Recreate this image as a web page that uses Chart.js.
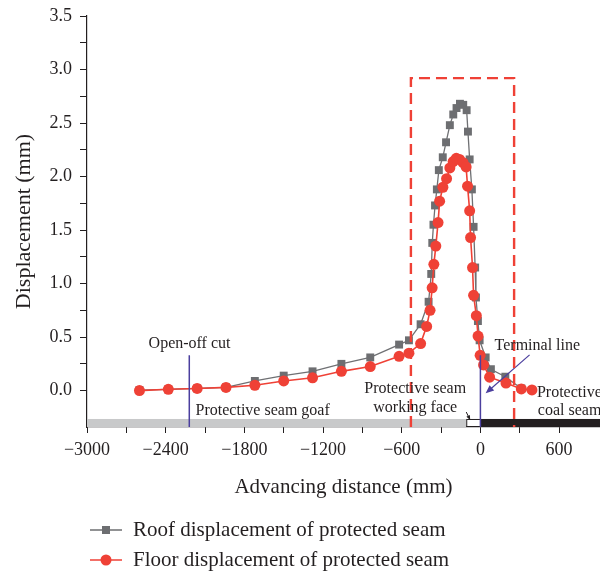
<!DOCTYPE html>
<html>
<head>
<meta charset="utf-8">
<script src="https://cdn.jsdelivr.net/npm/chart.js@4.4.1/dist/chart.umd.min.js"></script>
<style>
html, body { margin: 0; padding: 0; background: #fff; }
#wrap { width: 600px; height: 576px; position: relative; }
</style>
</head>
<body>
<div id="wrap"><canvas id="myChart"></canvas></div>
<script>
// advancing distance (mm) and displacement (mm)
var roofX = [-2600, -2380, -2160, -1940, -1720, -1500, -1280, -1060, -840, -620, -545, -456, -395, -375, -367, -358, -346, -332, -317, -287, -262, -233, -207, -182, -156, -131, -105, -95, -82, -65, -52, -40, -34, -19, -6, 40, 80, 190, 312];
var roofY = [0.005, 0.012, 0.02, 0.03, 0.09, 0.14, 0.18, 0.25, 0.31, 0.43, 0.47, 0.62, 0.83, 1.09, 1.38, 1.55, 1.73, 1.88, 2.06, 2.18, 2.32, 2.48, 2.58, 2.64, 2.68, 2.67, 2.62, 2.42, 2.16, 1.88, 1.53, 1.15, 0.87, 0.65, 0.47, 0.31, 0.2, 0.13, 0.02];

var floorX = [-2600, -2380, -2160, -1940, -1720, -1500, -1280, -1060, -840, -620, -545, -456, -410, -384, -368, -355, -340, -323, -311, -286, -258, -233, -208, -184, -159, -132, -109, -98, -82, -75, -60, -52, -31, -18, -2, 24, 70, 195, 312, 393];
var floorY = [0.0, 0.012, 0.02, 0.03, 0.05, 0.09, 0.12, 0.18, 0.225, 0.32, 0.35, 0.44, 0.6, 0.75, 0.96, 1.18, 1.35, 1.57, 1.77, 1.9, 1.98, 2.08, 2.14, 2.17, 2.16, 2.13, 2.09, 1.91, 1.68, 1.43, 1.15, 0.89, 0.7, 0.51, 0.33, 0.24, 0.125, 0.07, 0.016, 0.006];

var xTicks = [-3000, -2400, -1800, -1200, -600, 0, 600];
var yTicks = [0, 0.5, 1, 1.5, 2, 2.5, 3, 3.5];
var seriesNames = ['Roof displacement of protected seam', 'Floor displacement of protected seam'];

var GRAY = '#6d6e71';
var RED = '#ef4136';
var BLUE = '#4b3f9e';
var INK = '#231f20';
var SERIF = '"Liberation Serif", "Times New Roman", serif';

function pairs(xs, ys) {
  return xs.map(function (x, i) { return { x: x, y: ys[i] }; });
}

function arrow(c, x1, y1, x2, y2, head) {
  var ang = Math.atan2(y2 - y1, x2 - x1);
  c.beginPath();
  c.moveTo(x1, y1);
  c.lineTo(x2 - Math.cos(ang) * head * 0.6, y2 - Math.sin(ang) * head * 0.6);
  c.stroke();
  c.beginPath();
  c.moveTo(x2, y2);
  c.lineTo(x2 - head * Math.cos(ang - 0.4), y2 - head * Math.sin(ang - 0.4));
  c.lineTo(x2 - head * Math.cos(ang + 0.4), y2 - head * Math.sin(ang + 0.4));
  c.closePath();
  c.fill();
}

var overlay = {
  id: 'overlay',
  beforeDatasetsDraw: function (chart) {
    var c = chart.ctx, xs = chart.scales.x, ys = chart.scales.y, a = chart.chartArea;
    var top = ys.getPixelForValue(-0.265);
    var face = xs.getPixelForValue(-108), term = xs.getPixelForValue(0);
    c.save();
    c.fillStyle = '#c8c9ca';
    c.fillRect(a.left, top, face - a.left, a.bottom - top);
    c.fillStyle = INK;
    c.fillRect(term, top, a.right - term, a.bottom - top);
    c.strokeStyle = INK;
    c.lineWidth = 1;
    c.strokeRect(face + 0.5, top + 0.5, term - face, a.bottom - top - 1);
    c.restore();
  },
  afterDatasetsDraw: function (chart) {
    var c = chart.ctx, xs = chart.scales.x, ys = chart.scales.y, a = chart.chartArea;
    var px = function (v) { return xs.getPixelForValue(v); };
    var py = function (v) { return ys.getPixelForValue(v); };
    c.save();

    // blue marker lines: open-off cut and terminal line
    c.strokeStyle = BLUE;
    c.fillStyle = BLUE;
    c.lineWidth = 1.5;
    c.beginPath();
    c.moveTo(px(-2220), py(0.33)); c.lineTo(px(-2220), a.bottom);
    c.moveTo(px(0), py(0.33)); c.lineTo(px(0), a.bottom);
    c.stroke();
    c.lineWidth = 1.2;
    arrow(c, px(375), py(0.334), px(40), py(-0.025), 9);

    // small black arrow to the working face
    c.strokeStyle = INK;
    c.fillStyle = INK;
    c.lineWidth = 1;
    arrow(c, px(-108), py(-0.2), px(-78), py(-0.275), 5);

    // red dashed box round the peak
    c.strokeStyle = RED;
    c.lineWidth = 2.4;
    c.setLineDash([11, 6]);
    c.beginPath();
    c.moveTo(px(-530), a.bottom);
    c.lineTo(px(-530), py(2.92));
    c.lineTo(px(257), py(2.92));
    c.lineTo(px(257), a.bottom);
    c.stroke();
    c.setLineDash([]);

    // labels
    c.fillStyle = INK;
    c.font = '16px ' + SERIF;
    c.textBaseline = 'middle';
    c.textAlign = 'center';
    c.fillText('Open-off cut', px(-2218), py(0.44));
    c.fillText('Protective seam', px(-497), py(0.02));
    c.fillText('working face', px(-497), py(-0.16));
    c.textAlign = 'left';
    c.fillText('Protective seam goaf', px(-2172), py(-0.187));
    c.fillText('Terminal line', px(108), py(0.42));
    c.fillText('Protective', px(431), py(-0.016));
    c.fillText('coal seam', px(438), py(-0.187));
    c.restore();
  },
  afterDraw: function (chart) {
    var c = chart.ctx;
    var rows = [
      { y: 530, color: GRAY, style: 'square' },
      { y: 560, color: RED, style: 'circle' }
    ];
    c.save();
    c.font = '21px ' + SERIF;
    c.textBaseline = 'middle';
    c.textAlign = 'left';
    rows.forEach(function (r, i) {
      c.strokeStyle = r.color;
      c.fillStyle = r.color;
      c.lineWidth = 1.5;
      c.beginPath();
      c.moveTo(90, r.y); c.lineTo(122, r.y);
      c.stroke();
      c.beginPath();
      if (r.style === 'square') c.rect(102, r.y - 4, 8, 8);
      else c.arc(106, r.y, 5.5, 0, Math.PI * 2);
      c.fill();
      c.fillStyle = INK;
      c.fillText(seriesNames[i], 133, r.y);
    });
    c.restore();
  }
};

var ctx = document.getElementById('myChart');

var myChart = new Chart(ctx, {
  type: 'line',
  data: {
    datasets: [{
      label: seriesNames[0],
      data: pairs(roofX, roofY),
      borderColor: '#6f7073',
      borderWidth: 1.3,
      backgroundColor: GRAY,
      pointStyle: 'rect',
      pointRadius: 5.6,
      pointBorderWidth: 0,
      pointBackgroundColor: GRAY,
      order: 1
    }, {
      label: seriesNames[1],
      data: pairs(floorX, floorY),
      borderColor: RED,
      borderWidth: 1.6,
      backgroundColor: RED,
      pointStyle: 'circle',
      pointRadius: 5.5,
      pointBorderWidth: 0,
      pointBackgroundColor: RED,
      order: 0
    }]
  },
  options: {
    responsive: true,
    maintainAspectRatio: false,
    animation: false,
    layout: { autoPadding: false, padding: { top: 16, right: 0, bottom: 74, left: 0 } },
    plugins: {
      legend: { display: false },
      tooltip: { enabled: false }
    },
    scales: {
      x: {
        type: 'linear',
        min: -3000,
        max: 912,
        afterBuildTicks: function (scale) {
          var t = [];
          for (var v = xTicks[0]; v <= xTicks[xTicks.length - 1]; v += 300) t.push({ value: v });
          scale.ticks = t;
        },
        afterFit: function (scale) { scale.height = 75; },
        ticks: {
          autoSkip: false,
          maxRotation: 0,
          padding: 6,
          color: INK,
          font: { family: SERIF, size: 18 },
          callback: function (v) {
            if (xTicks.indexOf(v) < 0) return '';
            return v < 0 ? '\u2212' + Math.abs(v) : String(v);
          }
        },
        grid: { drawOnChartArea: false, color: INK, tickLength: 6 },
        border: { color: INK, width: 1.2 },
        title: {
          display: true,
          text: 'Advancing distance (mm)',
          color: INK,
          font: { family: SERIF, size: 21 },
          padding: { top: 0, bottom: 2 }
        }
      },
      y: {
        min: -0.34,
        max: 3.5,
        afterBuildTicks: function (scale) {
          var t = [];
          for (var v = 0; v <= 3.5001; v += 0.25) t.push({ value: Math.round(v * 100) / 100 });
          scale.ticks = t;
        },
        afterFit: function (scale) { scale.width = 87; },
        ticks: {
          padding: 8,
          color: INK,
          font: { family: SERIF, size: 18, lineHeight: 0.85 },
          callback: function (v) {
            return yTicks.indexOf(v) < 0 ? '' : v.toFixed(1);
          }
        },
        grid: { drawOnChartArea: false, color: INK, tickLength: 7 },
        border: { color: INK, width: 1.2 },
        title: {
          display: true,
          text: 'Displacement (mm)',
          color: INK,
          font: { family: SERIF, size: 22 },
          padding: { top: 11, bottom: 0 }
        }
      }
    }
  },
  plugins: [overlay]
});
</script>
</body>
</html>
